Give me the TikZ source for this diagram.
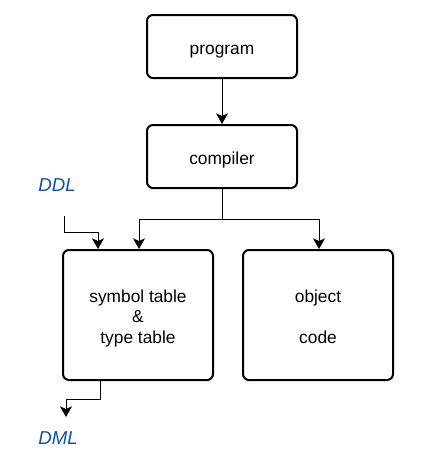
\documentclass[tikz,border=0pt]{standalone}
\usepackage{fontspec}
\setmainfont{Liberation Sans}
\usepackage{tikz}
\usepackage{xcolor}
\usetikzlibrary{arrows.meta,positioning}
\definecolor{cpblue}{RGB}{16,82,166}
\newcommand{\cplines}[1]{\raisebox{-2.7pt}[\height][\depth]{\begin{tabular}[t]{@{}c@{}}#1\end{tabular}}}
\tikzset{
  cpbox/.style={draw=black, line width=1.5pt, rounded corners=4.5pt, fill=white, inner sep=0pt, minimum width=112.5pt, minimum height=47.25pt, font=\fontsize{13}{15.4}\selectfont},
  cpbig/.style={cpbox, minimum height=97.5pt},
  cparr/.style={-{Stealth[length=8pt, width=9pt, inset=2pt]}, line width=0.75pt, draw=black},
  cplab/.style={text=cpblue, font=\fontsize{14}{16}\selectfont\itshape}
}

\begin{document}
\begin{tikzpicture}[x=0.75pt, y=-0.75pt]
  \useasboundingbox (0,0) rectangle (426,465);
  \node[cpbox] (program) at (222,46.5) {\cplines{program}};
  \node[cpbox] (compiler) at (222,156.5) {\cplines{compiler}};
  \node[cpbig] (symtab) at (138,315) {\cplines{symbol table\\\&\\type table}};
  \node[cpbig] (objcode) at (318,315) {\cplines{object\\ \\code}};
  \node[cplab] (ddl) at (57,185) {DDL};
  \node[cplab] (dml) at (58,438) {DML};
  \coordinate (ddlin) at (64,216);
  \coordinate (dmlout) at (66,417);
  \draw[cparr] (program) -- (compiler);
  \draw[cparr] (compiler.south) |- (139,219) -- (symtab.north -| 139,0);
  \draw[cparr] (compiler.south) |- (319,219) -- (objcode.north -| 319,0);
  \draw[cparr] (ddlin) |- (98,232) -- (symtab.north -| 98,0);
  \draw[cparr] (symtab.south -| 100,0) |- (66,399) -- (dmlout);
\end{tikzpicture}
\end{document}
